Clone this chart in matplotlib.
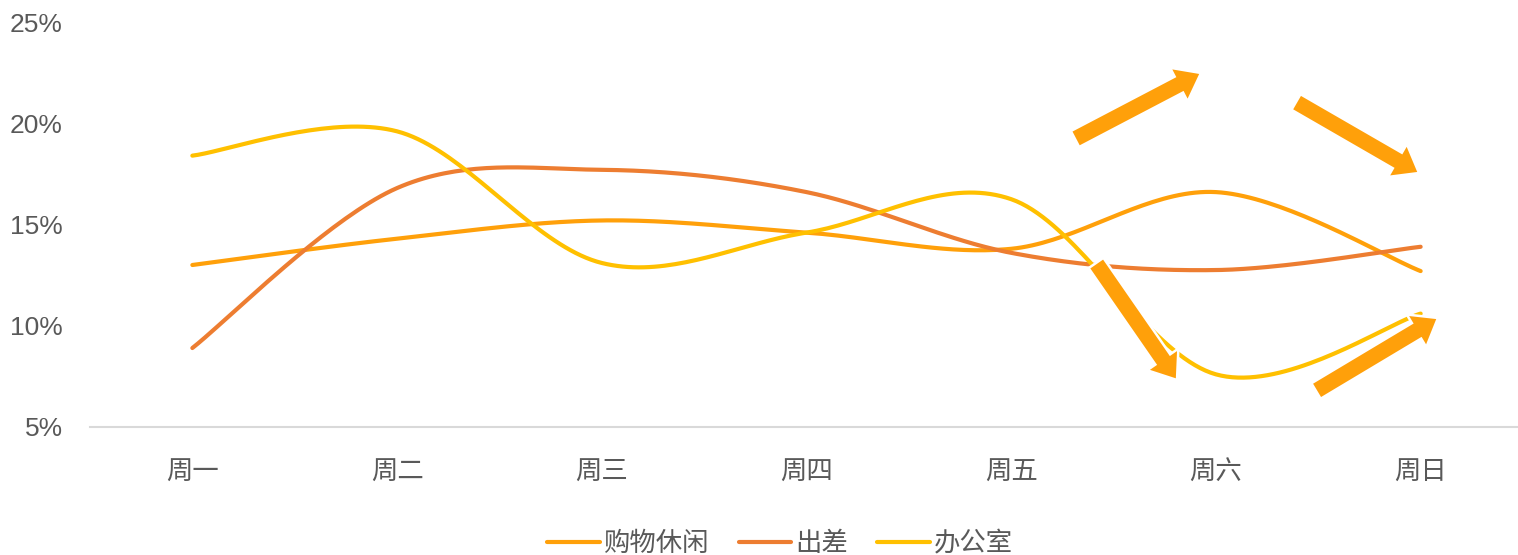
import numpy as np
import matplotlib
matplotlib.use("Agg")
import matplotlib.pyplot as plt
import matplotlib.patches as mpatches
import matplotlib.transforms as mtransforms

plt.rcParams['font.family'] = ['Liberation Sans', 'Noto Sans CJK SC', 'DejaVu Sans']

days = ['周一', '周二', '周三', '周四', '周五', '周六', '周日']
shopping = [13.0, 14.3, 15.2, 14.6, 13.8, 16.6, 12.7]
business = [8.9, 16.8, 17.7, 16.6, 13.6, 12.75, 13.9]
office = [18.4, 19.6, 13.1, 14.6, 16.25, 7.6, 10.6]

series = [('购物休闲', shopping, '#FFA00A'),
          ('出差', business, '#ED7D31'),
          ('办公室', office, '#FFC000')]

# arrows, in pixels from top-left: tail (x, y), tip (x, y)
arrows = [((1075, 139), (1201, 73)),
          ((1296, 102), (1419, 173)),
          ((1096, 263), (1177, 380)),
          ((1316, 391), (1438, 318))]


def smooth(xs, ys, n=40):
    # excel-like smoothing: catmull-rom bezier
    xs = np.asarray(xs, float)
    ys = np.asarray(ys, float)
    px = np.concatenate([[xs[0]], xs, [xs[-1]]])
    py = np.concatenate([[ys[0]], ys, [ys[-1]]])
    outx, outy = [], []
    t = np.linspace(0, 1, n)
    for i in range(1, len(px) - 2):
        p0 = np.array([px[i], py[i]])
        p3 = np.array([px[i + 1], py[i + 1]])
        c1 = p0 + (np.array([px[i + 1], py[i + 1]]) - np.array([px[i - 1], py[i - 1]])) / 6
        c2 = p3 - (np.array([px[i + 2], py[i + 2]]) - p0) / 6
        b = ((1 - t) ** 3)[:, None] * p0 + (3 * (1 - t) ** 2 * t)[:, None] * c1 \
            + (3 * (1 - t) * t ** 2)[:, None] * c2 + (t ** 3)[:, None] * p3
        outx.extend(b[:, 0])
        outy.extend(b[:, 1])
    return outx, outy


W, H = 1518, 555
fig = plt.figure(figsize=(W / 100, H / 100), dpi=100)
ax = fig.add_axes([90 / W, 128 / H, 1433 / W, 405 / H])

x = np.arange(len(days))
for name, vals, col in series:
    sx, sy = smooth(x, vals)
    ax.plot(sx, sy, color=col, lw=3, solid_capstyle='round', label=name)

ax.set_xlim(-0.5, 6.5)
ax.set_ylim(5, 25)
ax.set_yticks([5, 10, 15, 20, 25])
ax.set_yticklabels(['5%', '10%', '15%', '20%', '25%'])
ax.set_xticks(x)
ax.set_xticklabels(days)
ax.tick_params(length=0, labelsize=19, labelcolor='#595959')
ax.tick_params(axis='y', pad=19.5)
ax.tick_params(axis='x', pad=24)
for s in ['top', 'right', 'left']:
    ax.spines[s].set_visible(False)
ax.spines['bottom'].set_color('#D9D9D9')
ax.spines['bottom'].set_linewidth(1.5)

px_trans = mtransforms.Affine2D().scale(1 / 100) + fig.dpi_scale_trans
for (x0, y0), (x1, y1) in arrows:
    arr = mpatches.FancyArrow(x0, H - y0, x1 - x0, y0 - y1, width=18,
                              head_width=38, head_length=25,
                              length_includes_head=True,
                              facecolor='#FFA00A', edgecolor='white', lw=1.8,
                              transform=px_trans)
    fig.add_artist(arr)

fig.legend(loc='lower center', bbox_to_anchor=(0.514, -0.045), ncol=3, frameon=False,
           fontsize=19, handlelength=2.0, handletextpad=0.15, columnspacing=1.1,
           labelcolor='#595959')

fig.savefig('out.png', dpi=100)
